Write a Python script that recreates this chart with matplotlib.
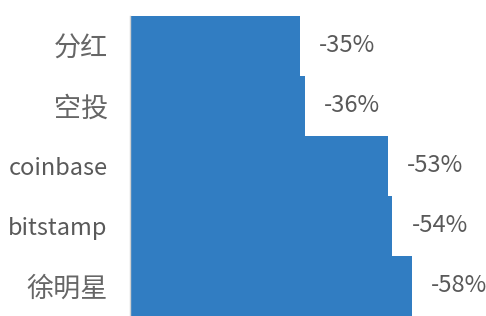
import matplotlib.pyplot as plt

plt.rcParams['font.family'] = ['Noto Sans CJK SC', 'DejaVu Sans']

labels = ['分红', '空投', 'coinbase', 'bitstamp', '徐明星']
values = [-35, -36, -53, -54, -58]

fig = plt.figure(figsize=(4.86, 3.16), dpi=100)
ax = fig.add_axes([130 / 486, 0, 1 - 130 / 486, 1 - 16 / 316])

pos = range(len(labels))
widths = [abs(v) for v in values]
ax.barh(pos, widths, height=1.0, color='#317dc2', edgecolor='none')

for p, w, v in zip(pos, widths, values):
    ax.annotate(f'{v}%', xy=(w, p), xytext=(19, 0), textcoords='offset pixels',
                va='center', ha='left', fontsize=17, color='#595959',
                fontweight='light')

ax.set_xlim(0, 356 / 4.86)
ax.set_ylim(len(labels) - 0.5, -0.5)
ax.set_yticks(list(pos))
ax.set_yticklabels(labels, fontsize=17, color='#595959', fontweight='light')
# the Chinese labels look bigger than the latin ones in the original
for t in ax.get_yticklabels():
    if not t.get_text().isascii():
        t.set_fontsize(19.5)
        t.set_color('#666666')
ax.tick_params(axis='y', length=0, pad=16)
ax.set_xticks([])
for s in ['top', 'right', 'bottom']:
    ax.spines[s].set_visible(False)
ax.spines['left'].set_color('#d0d0d0')
ax.spines['left'].set_linewidth(1)

fig.savefig('out.png', dpi=100)
